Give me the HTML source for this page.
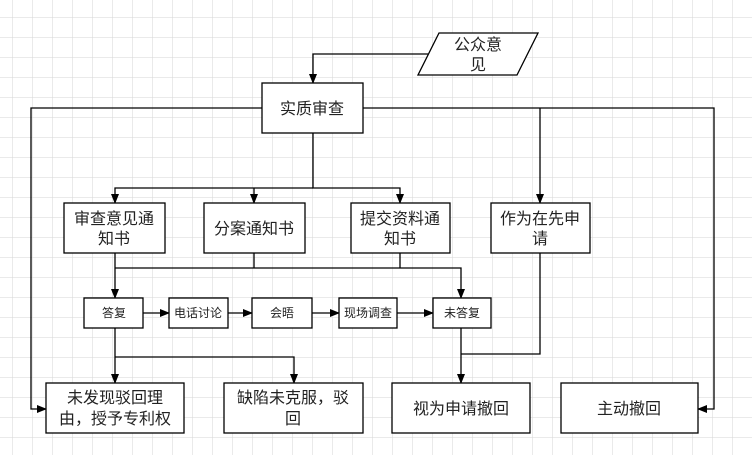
<!DOCTYPE html>
<html><head><meta charset="utf-8"><style>
html,body{margin:0;padding:0;background:#fff}
svg{display:block}
text{font-family:"Liberation Sans","Noto Sans CJK SC",sans-serif;fill:#222;text-anchor:middle}
.b{font-size:16px}.s{font-size:12px}
</style></head><body>
<svg width="752" height="455" xmlns="http://www.w3.org/2000/svg">
<defs>
<pattern id="g" x="12" y="17" width="20" height="20" patternUnits="userSpaceOnUse">
<path d="M0 0H20M0 0V20" stroke="#d6d6d6" stroke-width="1" fill="none"/>
</pattern>
<marker id="a" markerWidth="10" markerHeight="10" refX="9" refY="5" orient="auto" markerUnits="userSpaceOnUse">
<path d="M0 1L10 5L0 9Z" fill="#000"/>
</marker>
</defs>
<rect width="752" height="455" fill="url(#g)"/>
<g stroke="#000" stroke-width="1.3" fill="none">
<polygon points="439,33 538,33 517,75 418,75" fill="#fff"/>
<path d="M428,54H313V83" marker-end="url(#a)"/>
<path d="M262,108H31V409H46" marker-end="url(#a)"/>
<path d="M363,108H714V409H698" marker-end="url(#a)"/>
<path d="M540,108V203" marker-end="url(#a)"/>
<path d="M313,133V188H400V203" marker-end="url(#a)"/>
<path d="M313,188H115V203" marker-end="url(#a)"/>
<path d="M254,188V203" marker-end="url(#a)"/>
<path d="M115,253V298" marker-end="url(#a)"/>
<path d="M254,253V268M400,253V268M115,268H461V298" marker-end="url(#a)"/>
<path d="M143,313H169" marker-end="url(#a)"/>
<path d="M228,313H252" marker-end="url(#a)"/>
<path d="M312,313H339" marker-end="url(#a)"/>
<path d="M397,313H433" marker-end="url(#a)"/>
<path d="M115,328V383" marker-end="url(#a)"/>
<path d="M115,357H294V383" marker-end="url(#a)"/>
<path d="M461,328V383" marker-end="url(#a)"/>
<path d="M540,253V354H461"/>
<g fill="#fff">
<rect x="262" y="83" width="101" height="50"/>
<rect x="64" y="203" width="101" height="50"/>
<rect x="204" y="203" width="101" height="50"/>
<rect x="351" y="203" width="99" height="50"/>
<rect x="491" y="203" width="99" height="50"/>
<rect x="84" y="298" width="59" height="30"/>
<rect x="169" y="298" width="59" height="30"/>
<rect x="252" y="298" width="60" height="30"/>
<rect x="339" y="298" width="58" height="30"/>
<rect x="433" y="298" width="58" height="30"/>
<rect x="46" y="383" width="138" height="50"/>
<rect x="224" y="383" width="139" height="50"/>
<rect x="392" y="383" width="138" height="50"/>
<rect x="561" y="383" width="137" height="50"/>
</g>
</g>
<text class="b" x="478" y="50">公众意</text>
<text class="b" x="478" y="70">见</text>
<text class="b" x="312" y="114">实质审查</text>
<text class="b" x="114" y="224">审查意见通</text>
<text class="b" x="114" y="244">知书</text>
<text class="b" x="254" y="234">分案通知书</text>
<text class="b" x="400" y="224">提交资料通</text>
<text class="b" x="400" y="244">知书</text>
<text class="b" x="540" y="224">作为在先申</text>
<text class="b" x="540" y="244">请</text>
<text class="s" x="114" y="317">答复</text>
<text class="s" x="198" y="317">电话讨论</text>
<text class="s" x="282" y="317">会晤</text>
<text class="s" x="368" y="317">现场调查</text>
<text class="s" x="462" y="317">未答复</text>
<text class="b" x="115" y="403">未发现驳回理</text>
<text class="b" x="115" y="424">由，授予专利权</text>
<text class="b" x="293" y="403">缺陷未克服，驳</text>
<text class="b" x="293" y="424">回</text>
<text class="b" x="461" y="414">视为申请撤回</text>
<text class="b" x="629" y="414">主动撤回</text>
</svg>
</body></html>
